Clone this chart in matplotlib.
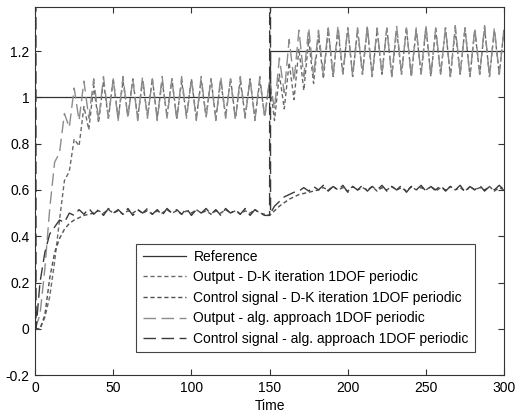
import numpy as np
import matplotlib.pyplot as plt

plt.rcParams['font.family'] = ['Liberation Sans', 'DejaVu Sans']

# samples every half period of the disturbance (3.125 time units), t = 0 .. 300
step = 3.125

ref_t = [0, 150, 150, 300]
ref_y = [1.0, 1.0, 1.2, 1.2]

out_dk = [
    0.00, 0.00, 0.05, 0.14, 0.29, 0.47, 0.64, 0.68, 0.82, 0.79, 0.96, 0.86,
    1.05, 0.89, 1.07, 0.91, 1.08, 0.91, 1.07, 0.92, 1.08, 0.91, 1.07, 0.92,
    1.08, 0.91, 1.07, 0.92, 1.08, 0.91, 1.07, 0.92, 1.08, 0.91, 1.07, 0.92,
    1.08, 0.91, 1.07, 0.92, 1.08, 0.91, 1.07, 0.92, 1.08, 0.91, 1.07, 0.92,
    1.07, 0.90, 1.10, 0.95, 1.15, 0.99, 1.21, 1.03, 1.25, 1.06, 1.27, 1.08,
    1.29, 1.09, 1.29, 1.10, 1.30, 1.09, 1.29, 1.10, 1.30, 1.09, 1.29, 1.10,
    1.30, 1.09, 1.29, 1.10, 1.30, 1.09, 1.29, 1.10, 1.30, 1.09, 1.29, 1.10,
    1.30, 1.09, 1.29, 1.10, 1.30, 1.09, 1.29, 1.10, 1.30, 1.09, 1.29, 1.10,
    1.30,
]

ctrl_dk = [
    0.00, 0.00, 0.06, 0.22, 0.33, 0.39, 0.43, 0.455, 0.47, 0.48, 0.49, 0.495,
    0.50, 0.51, 0.50, 0.515, 0.50, 0.51, 0.495, 0.51, 0.50, 0.515, 0.50, 0.51,
    0.495, 0.51, 0.50, 0.515, 0.50, 0.51, 0.495, 0.51, 0.50, 0.515, 0.50, 0.51,
    0.495, 0.51, 0.50, 0.515, 0.50, 0.51, 0.495, 0.51, 0.50, 0.515, 0.50, 0.495,
    0.49, 0.51, 0.53, 0.545, 0.56, 0.57, 0.58, 0.585, 0.59, 0.595, 0.60, 0.61,
    0.60, 0.615, 0.60, 0.61, 0.595, 0.615, 0.60, 0.61, 0.60, 0.615, 0.595, 0.61,
    0.60, 0.615, 0.60, 0.61, 0.595, 0.615, 0.60, 0.61, 0.60, 0.615, 0.595, 0.61,
    0.60, 0.615, 0.60, 0.61, 0.595, 0.615, 0.60, 0.61, 0.60, 0.615, 0.595, 0.61,
    0.60,
]

out_alg = [
    0.00, 0.06, 0.26, 0.52, 0.72, 0.76, 0.93, 0.87, 1.04, 0.90, 1.07, 0.91,
    1.08, 0.90, 1.09, 0.91, 1.08, 0.90, 1.09, 0.91, 1.08, 0.90, 1.09, 0.91,
    1.08, 0.90, 1.09, 0.91, 1.08, 0.90, 1.09, 0.91, 1.08, 0.90, 1.09, 0.91,
    1.08, 0.90, 1.09, 0.91, 1.08, 0.90, 1.09, 0.91, 1.08, 0.90, 1.09, 0.91,
    1.08, 0.95, 1.17, 1.02, 1.25, 1.07, 1.29, 1.09, 1.30, 1.09, 1.29, 1.10,
    1.30, 1.09, 1.31, 1.10, 1.30, 1.09, 1.30, 1.10, 1.31, 1.09, 1.30, 1.10,
    1.30, 1.09, 1.31, 1.10, 1.30, 1.09, 1.30, 1.10, 1.31, 1.09, 1.30, 1.10,
    1.30, 1.09, 1.31, 1.10, 1.30, 1.09, 1.30, 1.10, 1.31, 1.09, 1.30, 1.10,
    1.30,
]

ctrl_alg = [
    -0.05, 0.20, 0.33, 0.41, 0.44, 0.47, 0.46, 0.50, 0.49, 0.515, 0.495, 0.52,
    0.495, 0.515, 0.49, 0.52, 0.50, 0.515, 0.495, 0.52, 0.49, 0.515, 0.50, 0.52,
    0.495, 0.515, 0.49, 0.52, 0.50, 0.515, 0.495, 0.52, 0.49, 0.515, 0.50, 0.52,
    0.495, 0.515, 0.49, 0.52, 0.50, 0.515, 0.495, 0.52, 0.49, 0.515, 0.50, 0.49,
    0.49, 0.53, 0.55, 0.57, 0.58, 0.59, 0.595, 0.61, 0.595, 0.615, 0.60, 0.62,
    0.595, 0.615, 0.60, 0.62, 0.59, 0.615, 0.60, 0.62, 0.595, 0.615, 0.60, 0.62,
    0.595, 0.615, 0.60, 0.62, 0.59, 0.615, 0.60, 0.62, 0.595, 0.615, 0.60, 0.62,
    0.595, 0.615, 0.60, 0.62, 0.59, 0.615, 0.60, 0.62, 0.595, 0.615, 0.60, 0.62,
    0.60,
]

# control signal peaks right after the reference steps (goes far off scale)
spike1_t, spike1_y = [0.3, 0.6], [8.0, 0.0]
spike2_t, spike2_y = [150.3, 150.6], [8.0, 0.50]

labels = ["Reference",
          "Output - D-K iteration 1DOF periodic",
          "Control signal - D-K iteration 1DOF periodic",
          "Output - alg. approach 1DOF periodic",
          "Control signal - alg. approach 1DOF periodic"]

t = np.arange(len(out_dk)) * step
t_ca = np.concatenate([t[:1], spike1_t, t[1:49], spike2_t, t[49:]])
y_ca = np.concatenate([ctrl_alg[:1], spike1_y, ctrl_alg[1:49], spike2_y, ctrl_alg[49:]])

fig = plt.figure(figsize=(5.16, 4.15), dpi=100)
ax = fig.add_axes([0.068, 0.096, 0.909, 0.887])

short = (0, (3, 2))
long = (0, (9, 4))
ax.plot(ref_t, ref_y, color='#333333', lw=0.9, label=labels[0])
ax.plot(t, out_dk, color='#6a6a6a', lw=1, ls=short, label=labels[1])
ax.plot(t, ctrl_dk, color='#505050', lw=1, ls=short, label=labels[2])
ax.plot(t, out_alg, color='#8c8c8c', lw=1, ls=long, label=labels[3])
ax.plot(t_ca, y_ca, color='#3a3a3a', lw=1, ls=long, label=labels[4])

ax.set_xlim(0, 300)
ax.set_ylim(-0.2, 1.39)
ax.set_xticks([0, 50, 100, 150, 200, 250, 300])
ax.set_yticks([-0.2, 0, 0.2, 0.4, 0.6, 0.8, 1.0, 1.2])
ax.set_yticklabels(['-0.2', '0', '0.2', '0.4', '0.6', '0.8', '1', '1.2'])
ax.tick_params(direction='in', top=True, right=True, length=4, labelsize=10,
               color='#333333', pad=4)
for s in ax.spines.values():
    s.set_color('#333333')
    s.set_linewidth(0.8)
ax.set_xlabel('Time', fontsize=10, labelpad=3)

leg = ax.legend(loc='lower right', bbox_to_anchor=(0.938, 0.0625), fontsize=10,
                handlelength=3.1, fancybox=False, framealpha=1,
                edgecolor='#444444', borderpad=0.45, labelspacing=0.47,
                borderaxespad=0, handletextpad=0.55)
leg.get_frame().set_linewidth(0.8)

fig.savefig('out.png', dpi=100)
